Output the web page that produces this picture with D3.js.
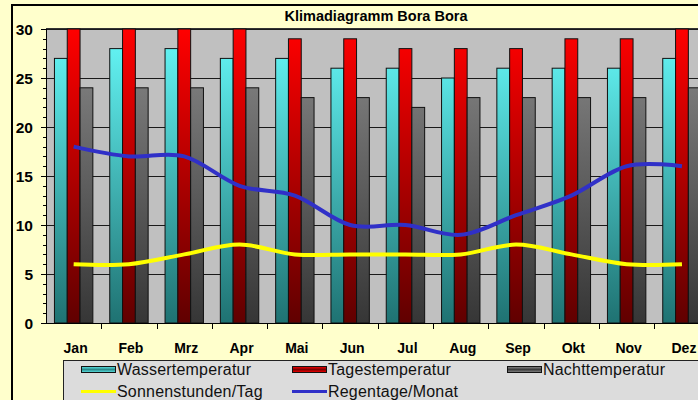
<!DOCTYPE html>
<html lang="de">
<head>
<meta charset="utf-8">
<title>Klimadiagramm Bora Bora</title>
<script src="https://d3js.org/d3.v7.min.js"></script>
<style>
    body { margin: 0; background: #ffffcc; }
    svg { display: block; font-family: "Liberation Sans", Arial, sans-serif; }
    .ylab { font-size: 15.5px; font-weight: bold; }
    .xlab { font-size: 14px; font-weight: bold; }
    .leg text { font-size: 16px; letter-spacing: 0.2px; fill: #111; }
</style>
</head>
<body>
<div id="chart"></div>
<script>
    // chart data
    var months = ["Jan", "Feb", "Mrz", "Apr", "Mai", "Jun", "Jul", "Aug", "Sep", "Okt", "Nov", "Dez"];
    var wasser = [27, 28, 28, 27, 27, 26, 26, 25, 26, 26, 26, 27];
    var tages  = [30, 30, 30, 30, 29, 29, 28, 28, 28, 29, 29, 30];
    var nacht  = [24, 24, 24, 24, 23, 23, 22, 23, 23, 23, 23, 24];
    var sonne  = [6, 6, 7, 8, 7, 7, 7, 7, 8, 7, 6, 6];
    var regen  = [18, 17, 17, 14, 13, 10, 10, 9, 11, 13, 16, 16];
    var yTicks = [0, 5, 10, 15, 20, 25, 30];
    var title = "Klimadiagramm Bora Bora";

    var barSeries = [
        { name: "Wassertemperatur", values: wasser, id: "gCyan" },
        { name: "Tagestemperatur", values: tages, id: "gRed" },
        { name: "Nachttemperatur", values: nacht, id: "gGray" }
    ];
    var lineSeries = [
        { name: "Sonnenstunden/Tag", values: sonne, color: "#ffff00" },
        { name: "Regentage/Monat", values: regen, color: "#3030c8" }
    ];

    var W = 698, H = 400;
    var plotLeft = 46, plotTop = 29, plotBottom = 323, step = 55.3;

    var svg = d3.select("#chart").append("svg")
        .attr("width", W).attr("height", H);

    var defs = svg.append("defs");
    function grad(id, c1, c2) {
        var g = defs.append("linearGradient").attr("id", id)
            .attr("gradientUnits", "userSpaceOnUse")
            .attr("x1", 0).attr("x2", 0).attr("y1", plotTop).attr("y2", plotBottom);
        g.append("stop").attr("offset", 0).attr("stop-color", c1);
        g.append("stop").attr("offset", 1).attr("stop-color", c2);
    }
    grad("gCyan", "#66fafa", "#1f7272");
    grad("gRed", "#ff0000", "#600000");
    grad("gGray", "#8a8a8a", "#363636");

    // small gradients for legend swatches
    [["gCyanL", "#5ee8e8", "#2a8a8a"], ["gRedL", "#ff0000", "#7a0000"], ["gGrayL", "#8a8a8a", "#3a3a3a"]].forEach(function (g) {
        var lg = defs.append("linearGradient").attr("id", g[0])
            .attr("x1", 0).attr("x2", 0).attr("y1", 0).attr("y2", 1);
        lg.append("stop").attr("offset", 0).attr("stop-color", g[1]);
        lg.append("stop").attr("offset", 0.5).attr("stop-color", g[2]);
        lg.append("stop").attr("offset", 1).attr("stop-color", g[1]);
    });

    // outer frame
    svg.append("rect").attr("x", 0).attr("y", 0).attr("width", W).attr("height", H).attr("fill", "#ffffcc");
    svg.append("line").attr("x1", 11).attr("x2", W).attr("y1", 5).attr("y2", 5).attr("stroke", "#000").attr("stroke-width", 2);
    svg.append("line").attr("x1", 12).attr("x2", 12).attr("y1", 4).attr("y2", H).attr("stroke", "#000").attr("stroke-width", 2);

    svg.append("text").attr("x", 376).attr("y", 21)
        .attr("text-anchor", "middle")
        .style("font-size", "14.5px").style("font-weight", "bold")
        .text(title);

    var x = d3.scaleBand().domain(months).range([plotLeft, plotLeft + step * months.length]);
    var x1 = d3.scaleBand().domain(barSeries.map(d => d.name))
        .range([0, x.bandwidth()]).paddingOuter(0.66);
    var y = d3.scaleLinear().domain([0, 30]).range([plotBottom, plotTop]);

    // plot area
    svg.append("rect").attr("x", plotLeft).attr("y", plotTop)
        .attr("width", x.range()[1] - plotLeft).attr("height", plotBottom - plotTop)
        .attr("fill", "#c0c0c0");
    svg.append("line").attr("x1", plotLeft).attr("x2", W).attr("y1", plotTop - 0.5).attr("y2", plotTop - 0.5)
        .attr("stroke", "#333");

    // grid lines
    svg.selectAll(".grid").data(yTicks.filter(d => d > 0)).enter()
        .append("line").attr("class", "grid")
        .attr("x1", plotLeft).attr("x2", x.range()[1])
        .attr("y1", d => Math.round(y(d)) + 0.5).attr("y2", d => Math.round(y(d)) + 0.5)
        .attr("stroke", "#1a1a1a");

    // bars
    barSeries.forEach(function (s) {
        svg.append("g").selectAll("rect").data(s.values).enter()
            .append("rect")
            .attr("x", (d, i) => x(months[i]) + x1(s.name))
            .attr("y", d => y(d))
            .attr("width", x1.bandwidth())
            .attr("height", d => plotBottom - y(d))
            .attr("fill", "url(#" + s.id + ")")
            .attr("stroke", "#111").attr("stroke-width", 1);
    });

    // smoothed lines
    var line = d3.line()
        .x((d, i) => x(months[i]) + x.bandwidth() / 2)
        .y(d => y(d))
        .curve(d3.curveCatmullRom.alpha(0));
    lineSeries.forEach(function (s) {
        svg.append("path").attr("d", line(s.values))
            .attr("fill", "none").attr("stroke", s.color)
            .attr("stroke-width", 4).attr("stroke-linejoin", "round");
    });

    // y axis
    var yAxis = svg.append("g").attr("transform", "translate(" + plotLeft + ",0)");
    yAxis.append("line").attr("x1", 0.5).attr("x2", 0.5).attr("y1", plotTop).attr("y2", plotBottom + 1).attr("stroke", "#000");
    yAxis.selectAll(".minor").data(d3.range(0, 31)).enter()
        .append("line")
        .attr("x1", d => d % 5 === 0 ? -5 : -3).attr("x2", 0)
        .attr("y1", d => Math.round(y(d)) + 0.5).attr("y2", d => Math.round(y(d)) + 0.5)
        .attr("stroke", "#000");
    yAxis.selectAll("text").data(yTicks).enter()
        .append("text").attr("class", "ylab")
        .attr("x", -13).attr("y", d => y(d) + 5.5)
        .attr("text-anchor", "end")
        .text(d => d);

    // x axis
    var xAxis = svg.append("g");
    xAxis.append("line").attr("x1", plotLeft).attr("x2", W).attr("y1", plotBottom + 0.5).attr("y2", plotBottom + 0.5).attr("stroke", "#000");
    xAxis.selectAll(".tick").data(months.slice(1)).enter()
        .append("line")
        .attr("x1", d => Math.round(x(d)) + 0.5).attr("x2", d => Math.round(x(d)) + 0.5)
        .attr("y1", plotBottom).attr("y2", plotBottom + 6)
        .attr("stroke", "#000");
    xAxis.selectAll("text").data(months).enter()
        .append("text").attr("class", "xlab")
        .attr("x", d => x(d) + x.bandwidth() / 2 + 2)
        .attr("y", 353)
        .attr("text-anchor", "middle")
        .text(d => d);

    // legend
    var leg = svg.append("g").attr("class", "leg");
    leg.append("rect").attr("x", 63.5).attr("y", 360.5).attr("width", 700).attr("height", 60)
        .attr("fill", "#dcdcdc").attr("stroke", "#222");
    var cols = [81, 292, 507];
    barSeries.forEach(function (s, i) {
        leg.append("rect").attr("x", cols[i] + 0.5).attr("y", 366.5).attr("width", 34).attr("height", 6)
            .attr("fill", "url(#" + s.id + "L)").attr("stroke", "#111");
        leg.append("text").attr("x", cols[i] + 36).attr("y", 375).text(s.name);
    });
    lineSeries.forEach(function (s, i) {
        leg.append("line").attr("x1", cols[i]).attr("x2", cols[i] + 35)
            .attr("y1", 391.5).attr("y2", 391.5)
            .attr("stroke", s.color).attr("stroke-width", 3);
        leg.append("text").attr("x", cols[i] + 36).attr("y", 397).text(s.name);
    });
</script>
</body>
</html>
